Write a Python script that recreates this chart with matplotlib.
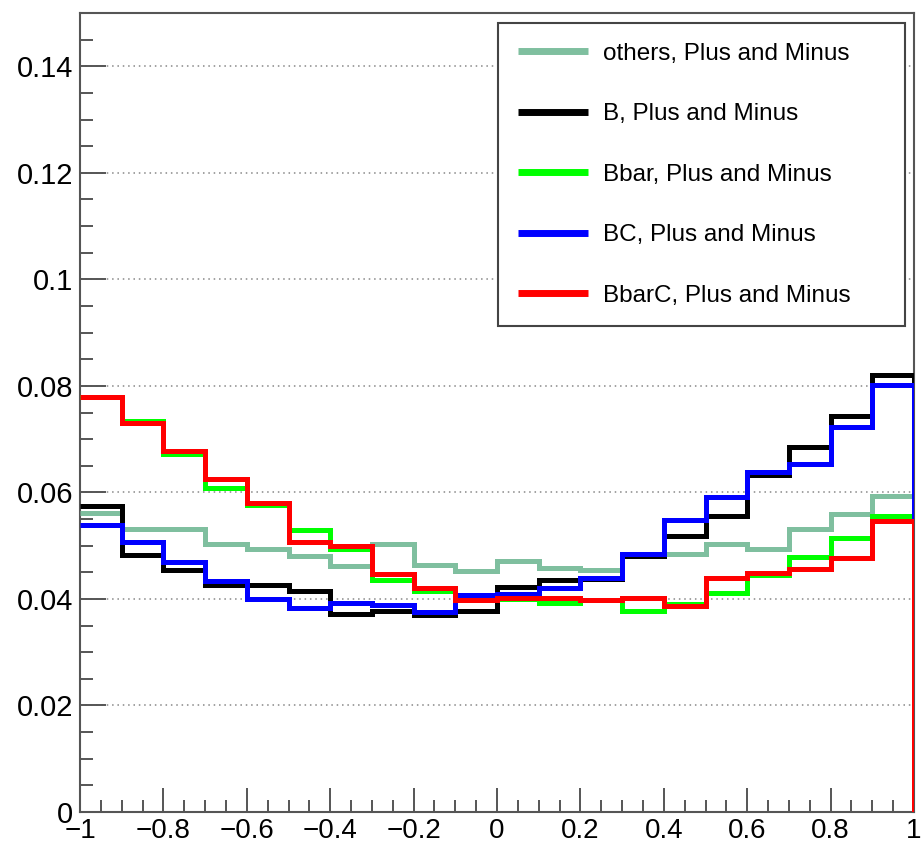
import numpy as np
import matplotlib
matplotlib.use('Agg')
from matplotlib import pyplot as plt
from matplotlib.ticker import MultipleLocator, FuncFormatter

plt.rcParams['font.family'] = ['Liberation Sans', 'DejaVu Sans']

# 20 bins from -1 to 1, normalised distributions
edges = np.linspace(-1, 1, 21)

others = [0.0562, 0.0532, 0.0532, 0.0503, 0.0493, 0.0481, 0.0461, 0.0503, 0.0463, 0.0452,
          0.0471, 0.0459, 0.0454, 0.0482, 0.0484, 0.0504, 0.0493, 0.0532, 0.0559, 0.0593]
b_pm = [0.0575, 0.0482, 0.0454, 0.0427, 0.0426, 0.0415, 0.0371, 0.0377, 0.0370, 0.0378,
        0.0423, 0.0435, 0.0437, 0.0481, 0.0518, 0.0556, 0.0632, 0.0686, 0.0744, 0.0821]
bbar_pm = [0.0780, 0.0734, 0.0672, 0.0609, 0.0576, 0.0529, 0.0494, 0.0435, 0.0415, 0.0399,
           0.0400, 0.0392, 0.0398, 0.0377, 0.0390, 0.0412, 0.0445, 0.0478, 0.0515, 0.0556]
bc_pm = [0.0539, 0.0506, 0.0470, 0.0434, 0.0399, 0.0383, 0.0393, 0.0388, 0.0375, 0.0407,
         0.0410, 0.0421, 0.0440, 0.0484, 0.0548, 0.0592, 0.0639, 0.0653, 0.0722, 0.0801]
bbarc_pm = [0.0780, 0.0731, 0.0677, 0.0625, 0.0580, 0.0506, 0.0499, 0.0446, 0.0421, 0.0398,
            0.0402, 0.0402, 0.0398, 0.0402, 0.0387, 0.0440, 0.0449, 0.0456, 0.0476, 0.0546]

labels = ['others, Plus and Minus', 'B, Plus and Minus', 'Bbar, Plus and Minus',
          'BC, Plus and Minus', 'BbarC, Plus and Minus']
colors = ['#7fbf9f', 'black', '#00ff00', '#0000ff', '#ff0000']
series = [others, b_pm, bbar_pm, bc_pm, bbarc_pm]

fig = plt.figure(figsize=(9.23, 8.5), dpi=100)
ax = fig.add_axes([80/923, 38/850, 834/923, 799/850])

# step outline; closes down to zero on the right edge only
for vals, c, lab in zip(series, colors, labels):
    xs = np.append(np.repeat(edges, 2)[1:-1], edges[-1])
    ys = np.append(np.repeat(vals, 2), 0)
    ax.plot(xs, ys, color=c, linewidth=3.6, label=lab, zorder=3,
            solid_joinstyle='miter', solid_capstyle='butt')

ax.set_xlim(-1, 1)
ax.set_ylim(0, 0.15)

ax.xaxis.set_major_locator(MultipleLocator(0.2))
ax.xaxis.set_minor_locator(MultipleLocator(0.05))
ax.yaxis.set_major_locator(MultipleLocator(0.02))
ax.yaxis.set_minor_locator(MultipleLocator(0.005))

fmt = FuncFormatter(lambda v, p: ('%g' % round(v, 4)).replace('-', '\u2212'))
ax.xaxis.set_major_formatter(fmt)
ax.yaxis.set_major_formatter(fmt)

axcol = '#555555'
ax.tick_params(which='both', direction='in', top=False, right=False, color=axcol,
               width=1.4, labelsize=21)
ax.tick_params(axis='x', which='major', length=17.3, pad=4.5, labelsize=20)
ax.tick_params(axis='x', which='minor', length=8.6)
ax.tick_params(axis='y', which='major', length=18.7, pad=5)
ax.tick_params(axis='y', which='minor', length=9.4)

for s in ax.spines.values():
    s.set_color(axcol)
    s.set_linewidth(1.5)

ax.yaxis.grid(True, linestyle=(0, (1, 2.5)), color='#888888', linewidth=1.1)
ax.set_axisbelow(True)

leg = ax.legend(loc='upper left', bbox_to_anchor=(498/923, 0.62, 407/923, 0.353),
                bbox_transform=fig.transFigure, mode='expand', borderaxespad=0,
                fontsize=17.5, handlelength=2.9, handletextpad=0.62, borderpad=0.82,
                labelspacing=1.58, fancybox=False, framealpha=1, edgecolor='#444444')
leg.get_frame().set_linewidth(1.5)
for h in leg.legend_handles:
    h.set_linewidth(5)

fig.savefig('out.png', dpi=100)
